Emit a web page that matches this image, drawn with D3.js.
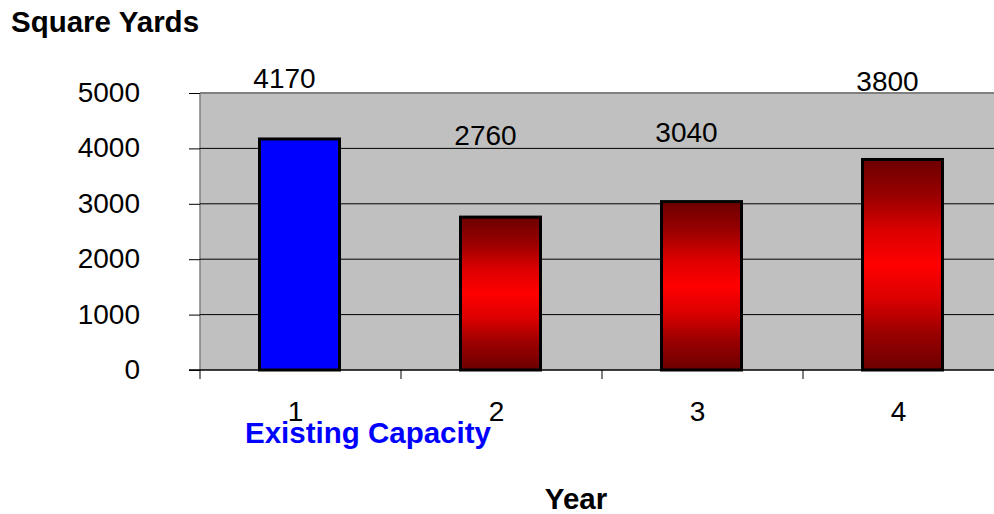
<!DOCTYPE html>
<html>
<head>
<meta charset="utf-8">
<script src="https://cdn.jsdelivr.net/npm/d3@7"></script>
<style>
  html, body { margin: 0; padding: 0; background: #fff; }
  svg { display: block; }
  text { font-family: "Liberation Sans", Arial, Helvetica, sans-serif; }
</style>
</head>
<body>
<svg id="chart" width="994" height="514"></svg>
<script>
// Capacity by year (square yards)
const years = ["1", "2", "3", "4"];
const capacity = [4170, 2760, 3040, 3800];
const yTicks = [0, 1000, 2000, 3000, 4000, 5000];
// Pixel lift of each value label above its bar top
const labelLift = [51, 72, 60, 68];

const W = 994, H = 514;
const plot = { left: 199, right: 1003, top: 93, bottom: 370 };

const svg = d3.select("#chart");

const x = d3.scaleBand()
  .domain(years)
  .range([plot.left, plot.right])
  .paddingInner(0.602)
  .paddingOuter(0.301);

const y = d3.scaleLinear()
  .domain([0, 5000])
  .range([plot.bottom, plot.top]);

// Red bars shade dark at both ends, bright in the middle
const defs = svg.append("defs");
const grad = defs.append("linearGradient")
  .attr("id", "redShade")
  .attr("x1", 0).attr("y1", 0).attr("x2", 0).attr("y2", 1);
[[0, "#6c0000"], [0.18, "#9c0000"], [0.34, "#dc0000"], [0.5, "#ff0000"],
 [0.66, "#dc0000"], [0.82, "#9c0000"], [1, "#6c0000"]].forEach(([o, c]) =>
  grad.append("stop").attr("offset", o).attr("stop-color", c));

// Plot background
svg.append("rect")
  .attr("x", 200).attr("y", plot.top)
  .attr("width", W - 200).attr("height", plot.bottom - plot.top)
  .attr("fill", "#c0c0c0");

// Frame: top and left edges
svg.append("line")
  .attr("x1", 200).attr("x2", W).attr("y1", plot.top).attr("y2", plot.top)
  .attr("stroke", "#808080").attr("stroke-width", 2);
svg.append("line")
  .attr("x1", 200).attr("x2", 200).attr("y1", plot.top).attr("y2", plot.bottom)
  .attr("stroke", "#808080").attr("stroke-width", 1.5);

// Horizontal gridlines
svg.append("g")
  .selectAll("line")
  .data(yTicks.filter(t => t > 0 && t < 5000))
  .join("line")
  .attr("x1", 200).attr("x2", W)
  .attr("y1", d => y(d)).attr("y2", d => y(d))
  .attr("stroke", "#000").attr("stroke-width", 1);

// Y axis
const yAxis = svg.append("g")
  .attr("transform", "translate(200,0)")
  .call(d3.axisLeft(y).tickValues(yTicks).tickSize(11).tickPadding(49).tickFormat(d3.format("d")));
yAxis.select(".domain").remove();
yAxis.selectAll(".tick line").attr("stroke", "#000");
yAxis.selectAll(".tick text")
  .attr("font-size", 28).attr("fill", "#000")
  .attr("font-family", "'Liberation Sans', Arial, sans-serif")
  .attr("dy", "0.3em");

// Bars
svg.append("g")
  .selectAll("rect")
  .data(capacity)
  .join("rect")
  .attr("x", (d, i) => x(years[i]))
  .attr("y", d => y(d))
  .attr("width", x.bandwidth())
  .attr("height", d => y(0) - y(d))
  .attr("fill", (d, i) => i === 0 ? "#0000ff" : "url(#redShade)")
  .attr("stroke", "#000")
  .attr("stroke-width", 3);

// Baseline
svg.append("line")
  .attr("x1", 189).attr("x2", W).attr("y1", y(0)).attr("y2", y(0))
  .attr("stroke", "#000").attr("stroke-width", 1.5);

// Category boundary ticks
const bounds = years.map(c => x(c) - x.step() * x.paddingOuter());
svg.append("g")
  .selectAll("line")
  .data(bounds)
  .join("line")
  .attr("x1", d => d + 1).attr("x2", d => d + 1)
  .attr("y1", y(0)).attr("y2", y(0) + 9)
  .attr("stroke", "#000").attr("stroke-width", 1);

// Category labels
svg.append("g")
  .selectAll("text")
  .data(years)
  .join("text")
  .attr("x", d => x(d) + x.bandwidth() / 2 - 4)
  .attr("y", 421)
  .attr("text-anchor", "middle")
  .attr("font-size", 28)
  .text(d => d);

// Value labels
svg.append("g")
  .selectAll("text")
  .data(capacity)
  .join("text")
  .attr("x", (d, i) => x(years[i]) + x.bandwidth() / 2 - 15)
  .attr("y", (d, i) => y(d) - labelLift[i])
  .attr("text-anchor", "middle")
  .attr("font-size", 28)
  .text(d => d);

// Titles
svg.append("text")
  .attr("x", 11).attr("y", 32)
  .attr("font-size", 29.5).attr("font-weight", "bold")
  .text("Square Yards");

svg.append("text")
  .attr("x", 576).attr("y", 509)
  .attr("text-anchor", "middle")
  .attr("font-size", 29.5).attr("font-weight", "bold")
  .text("Year");

svg.append("text")
  .attr("x", 245).attr("y", 443)
  .attr("font-size", 29.5).attr("font-weight", "bold")
  .attr("fill", "#0000ff")
  .text("Existing Capacity");
</script>
</body>
</html>
